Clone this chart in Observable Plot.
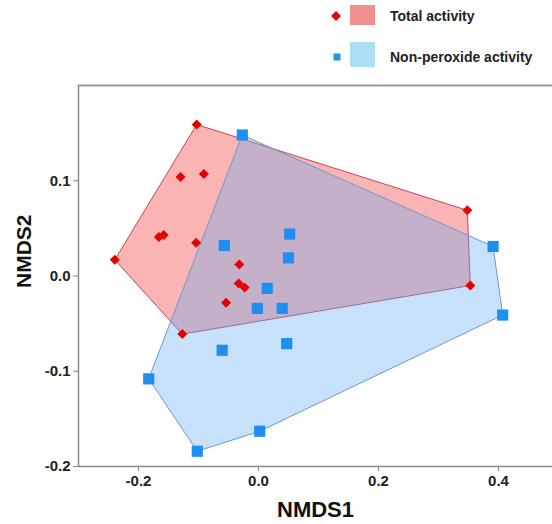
<!DOCTYPE html>
<html><head><meta charset="utf-8">
<script src="https://cdn.jsdelivr.net/npm/d3@7"></script>
<script src="https://cdn.jsdelivr.net/npm/@observablehq/plot@0.6"></script>
<style>
body{margin:0;background:#fff;font-family:"Liberation Sans",Arial,sans-serif;}
#legend{position:relative;width:552px;height:75px;}
#legend .t{position:absolute;left:390px;font-size:14px;font-weight:bold;color:#222;line-height:16px;white-space:nowrap;}
#legend .r{position:absolute;left:350px;width:25px;}
#legend svg{position:absolute;left:0;top:0;}
</style></head><body>
<div id="legend"></div>
<div id="chart"></div>
<script>
const groups = ["Total activity", "Non-peroxide activity"];
const totalX = [-0.103, -0.130, -0.091, -0.166, -0.158, -0.104, -0.2395, -0.032, -0.033, -0.023, -0.054, -0.127, 0.348, 0.353];
const totalY = [0.159, 0.104, 0.107, 0.041, 0.043, 0.035, 0.017, 0.012, -0.008, -0.012, -0.028, -0.061, 0.069, -0.010];
const nonperX = [-0.027, -0.057, 0.0145, 0.052, 0.050, 0.391, -0.002, 0.0395, -0.0605, -0.183, -0.102, 0.002, 0.047, 0.407];
const nonperY = [0.148, 0.032, -0.013, 0.044, 0.019, 0.031, -0.034, -0.034, -0.078, -0.108, -0.184, -0.163, -0.071, -0.041];
const xTicks = [-0.2, 0.0, 0.2, 0.4];
const yTicks = [-0.2, -0.1, 0.0, 0.1];
const xLabel = "NMDS1";
const yLabel = "NMDS2";

const total = totalX.map((x, i) => ({x, y: totalY[i], g: groups[0]}));
const nonper = nonperX.map((x, i) => ({x, y: nonperY[i], g: groups[1]}));

// legend
const leg = document.getElementById("legend");
leg.innerHTML = `
<svg width="552" height="75">
  <path d="M336,11 L341,16 L336,21 L331,16 Z" fill="#e60000"/>
  <rect x="333.5" y="53.5" width="7" height="7" fill="#1a9ad8"/>
</svg>
<div class="r" style="top:5px;height:20px;background:#ef8f8f"></div>
<div class="r" style="top:42px;height:25px;background:#aadff5"></div>
<div class="t" style="top:8px">${groups[0]}</div>
<div class="t" style="top:49px">${groups[1]}</div>`;

const fmt = d => d.toFixed(1);
const chart = Plot.plot({
  width: 552,
  height: 449,
  marginTop: 10,
  marginBottom: 58,
  marginLeft: 78,
  marginRight: 0,
  style: {fontFamily: "'Liberation Sans', Arial, sans-serif", background: "#fff"},
  x: {domain: [-0.3, 0.49]},
  y: {domain: [-0.2, 0.2]},
  marks: [
    Plot.hull(total, {x: "x", y: "y", fill: "#f24d4d", fillOpacity: 0.42, stroke: "#b84a5a", strokeWidth: 1}),
    Plot.hull(nonper, {x: "x", y: "y", fill: "rgb(98,170,241)", fillOpacity: 0.35, stroke: "#6a9acb", strokeWidth: 1}),
    Plot.ruleY([0.2], {stroke: "#999", strokeWidth: 2}),
    Plot.ruleY([-0.2], {stroke: "#888", strokeWidth: 1.5}),
    Plot.ruleX([-0.3], {stroke: "#888", strokeWidth: 1.5}),
    Plot.axisX({ticks: xTicks, tickFormat: fmt, tickSize: 5, tickPadding: 4, stroke: "#888", fill: "#222", fontSize: 15, fontWeight: "bold", label: null}),
    Plot.axisY({ticks: yTicks, tickFormat: fmt, tickSize: 5, tickPadding: 3, stroke: "#888", fill: "#222", fontSize: 15, fontWeight: "bold", label: null}),
    Plot.dot(total, {x: "x", y: "y", symbol: "diamond2", r: 4.5, fill: "#e60000"}),
    Plot.dot(nonper, {x: "x", y: "y", symbol: "square", r: 6.3, fill: "#1e8ef0"}),
    Plot.text([xLabel], {frameAnchor: "bottom", dy: 50, fontSize: 22, fontWeight: "bold", fill: "#111"}),
    Plot.text([yLabel], {frameAnchor: "left", dx: -54, dy: 12, rotate: -90, fontSize: 21, fontWeight: "bold", fill: "#111"})
  ]
});
document.getElementById("chart").appendChild(chart);
</script>
</body></html>
